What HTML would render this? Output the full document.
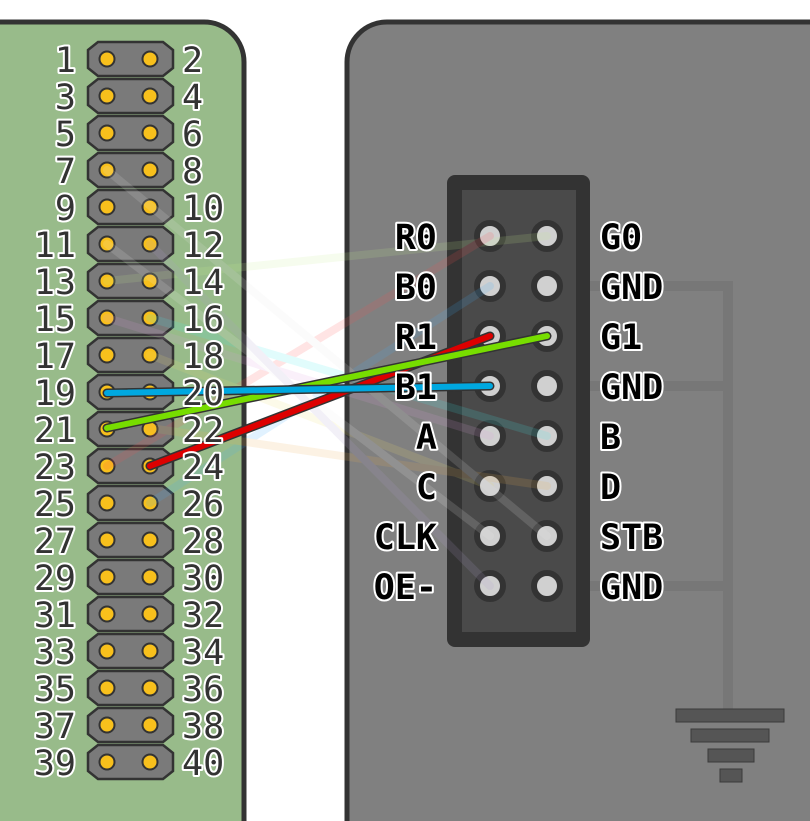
<!DOCTYPE html>
<html><head><meta charset="utf-8"><style>
html,body{margin:0;padding:0;background:#fff;}
svg{display:block;}
.l{font-family:"DejaVu Sans Mono","Liberation Mono",monospace;font-size:35px;fill:#333;stroke:#fff;stroke-width:4px;paint-order:stroke;stroke-linejoin:round;}
.r{font-family:"DejaVu Sans Mono","Liberation Mono",monospace;font-size:35px;font-weight:bold;fill:#000;stroke:#fff;stroke-width:4px;paint-order:stroke;stroke-linejoin:round;}
</style></head><body>
<svg width="810" height="821" viewBox="0 0 810 821" xmlns="http://www.w3.org/2000/svg">
<defs>
<g id="h">
<path d="M98,-17 H163 L173,-9 V9 L163,17 H98 L88,9 V-9 Z" fill="#7a7a7a" stroke="#333" stroke-width="2.5"/>
<circle cx="107" cy="0" r="7.5" fill="#f8c01c" stroke="#333" stroke-width="2"/>
<circle cx="150" cy="0" r="7.5" fill="#f8c01c" stroke="#333" stroke-width="2"/>
</g>
</defs>
<path d="M-10,22 H204 A40,40 0 0 1 244,62 V830 H-10 Z" fill="#98bb8a" stroke="#333" stroke-width="5"/>
<path d="M347,830 V62 A40,40 0 0 1 387,22 H830 V830 Z" fill="#808080" stroke="#333" stroke-width="5"/>
<g stroke="#777" stroke-width="10" fill="none">
<path d="M547,286 H728 V712"/><path d="M547,386 H728"/><path d="M547,586 H728"/>
</g>
<g fill="#555" stroke="#3a3a3a" stroke-width="1">
<rect x="676" y="709" width="108" height="13"/><rect x="691" y="729" width="78" height="13"/>
<rect x="708" y="749" width="46" height="13"/><rect x="720" y="769" width="22" height="13"/>
</g>
<rect x="447" y="175" width="143" height="472" rx="8" fill="#333"/>
<rect x="462" y="190" width="114" height="442" fill="#4a4a4a"/>
<g fill="#d0d0d0" stroke="#333" stroke-width="6">
<circle cx="490" cy="236" r="13"/><circle cx="547" cy="236" r="13"/>
<circle cx="490" cy="286" r="13"/><circle cx="547" cy="286" r="13"/>
<circle cx="490" cy="336" r="13"/><circle cx="547" cy="336" r="13"/>
<circle cx="490" cy="386" r="13"/><circle cx="547" cy="386" r="13"/>
<circle cx="490" cy="436" r="13"/><circle cx="547" cy="436" r="13"/>
<circle cx="490" cy="486" r="13"/><circle cx="547" cy="486" r="13"/>
<circle cx="490" cy="536" r="13"/><circle cx="547" cy="536" r="13"/>
<circle cx="490" cy="586" r="13"/><circle cx="547" cy="586" r="13"/>
</g>
<use href="#h" y="59"/><use href="#h" y="96"/><use href="#h" y="133"/><use href="#h" y="170"/>
<use href="#h" y="207"/><use href="#h" y="244"/><use href="#h" y="281"/><use href="#h" y="318"/>
<use href="#h" y="355"/><use href="#h" y="392"/><use href="#h" y="429"/><use href="#h" y="466"/>
<use href="#h" y="503"/><use href="#h" y="540"/><use href="#h" y="577"/><use href="#h" y="614"/>
<use href="#h" y="651"/><use href="#h" y="688"/><use href="#h" y="725"/><use href="#h" y="762"/>
<g stroke-width="8" stroke-linecap="round" fill="none" opacity="0.15">
<line x1="107" y1="281" x2="547" y2="236" stroke="#c8f090"/>
<line x1="107" y1="466" x2="490" y2="236" stroke="#ff5050"/>
<line x1="150" y1="503" x2="490" y2="286" stroke="#40b0ff"/>
<line x1="150" y1="318" x2="547" y2="436" stroke="#40f0f0"/>
<line x1="107" y1="318" x2="490" y2="436" stroke="#e0a0e0"/>
<line x1="150" y1="355" x2="490" y2="486" stroke="#f0e070"/>
<line x1="150" y1="428" x2="547" y2="486" stroke="#f0b050"/>
<line x1="107" y1="244" x2="490" y2="536" stroke="#f0f0f0"/>
<line x1="107" y1="170" x2="547" y2="536" stroke="#e8e8e8"/>
<line x1="150" y1="244" x2="490" y2="586" stroke="#b0a0d0"/>
</g>
<g stroke-linecap="round" fill="none">
<line x1="150" y1="466" x2="490" y2="336" stroke="#333" stroke-width="9"/>
<line x1="150" y1="466" x2="490" y2="336" stroke="#dd0000" stroke-width="6"/>
<line x1="107" y1="428" x2="547" y2="336" stroke="#333" stroke-width="9"/>
<line x1="107" y1="428" x2="547" y2="336" stroke="#77dd00" stroke-width="6"/>
<line x1="107" y1="393" x2="490" y2="386" stroke="#333" stroke-width="9"/>
<line x1="107" y1="393" x2="490" y2="386" stroke="#00a8e0" stroke-width="6"/>
</g>
<g class="l" text-anchor="end">
<text x="76" y="72">1</text><text x="76" y="109">3</text><text x="76" y="146">5</text><text x="76" y="183">7</text>
<text x="76" y="220">9</text><text x="76" y="257">11</text><text x="76" y="294">13</text><text x="76" y="331">15</text>
<text x="76" y="368">17</text><text x="76" y="405">19</text><text x="76" y="442">21</text><text x="76" y="479">23</text>
<text x="76" y="516">25</text><text x="76" y="553">27</text><text x="76" y="590">29</text><text x="76" y="627">31</text>
<text x="76" y="664">33</text><text x="76" y="701">35</text><text x="76" y="738">37</text><text x="76" y="775">39</text>
</g>
<g class="l">
<text x="182" y="72">2</text><text x="182" y="109">4</text><text x="182" y="146">6</text><text x="182" y="183">8</text>
<text x="182" y="220">10</text><text x="182" y="257">12</text><text x="182" y="294">14</text><text x="182" y="331">16</text>
<text x="182" y="368">18</text><text x="182" y="405">20</text><text x="182" y="442">22</text><text x="182" y="479">24</text>
<text x="182" y="516">26</text><text x="182" y="553">28</text><text x="182" y="590">30</text><text x="182" y="627">32</text>
<text x="182" y="664">34</text><text x="182" y="701">36</text><text x="182" y="738">38</text><text x="182" y="775">40</text>
</g>
<g class="r">
<text x="437" y="249" text-anchor="end">R0</text><text x="600" y="249">G0</text>
<text x="437" y="299" text-anchor="end">B0</text><text x="600" y="299">GND</text>
<text x="437" y="349" text-anchor="end">R1</text><text x="600" y="349">G1</text>
<text x="437" y="399" text-anchor="end">B1</text><text x="600" y="399">GND</text>
<text x="437" y="449" text-anchor="end">A</text><text x="600" y="449">B</text>
<text x="437" y="499" text-anchor="end">C</text><text x="600" y="499">D</text>
<text x="437" y="549" text-anchor="end">CLK</text><text x="600" y="549">STB</text>
<text x="437" y="599" text-anchor="end">OE-</text><text x="600" y="599">GND</text>
</g>
</svg>
</body></html>
